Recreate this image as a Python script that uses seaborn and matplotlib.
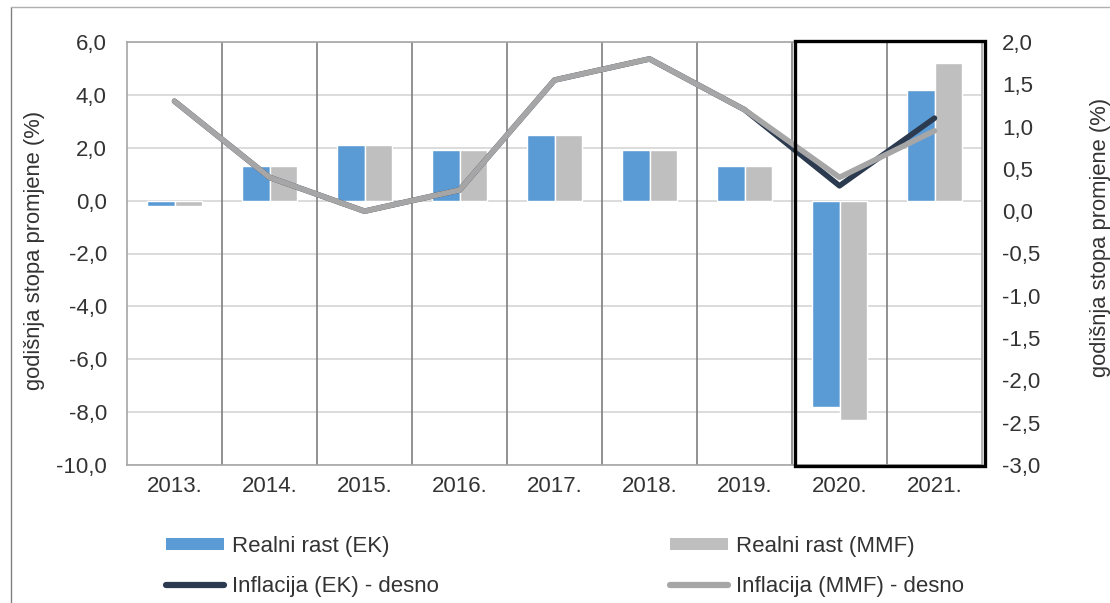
import numpy as np
import pandas as pd
import seaborn as sns
import matplotlib
matplotlib.use("Agg")
import matplotlib.pyplot as plt
from matplotlib.patches import Patch, Rectangle
from matplotlib.lines import Line2D
from matplotlib.ticker import FuncFormatter, MultipleLocator

years = ['2013.', '2014.', '2015.', '2016.', '2017.', '2018.', '2019.', '2020.', '2021.']
rast_ek = [-0.2, 1.3, 2.1, 1.9, 2.5, 1.9, 1.3, -7.8, 4.2]
rast_mmf = [-0.2, 1.3, 2.1, 1.9, 2.5, 1.9, 1.3, -8.3, 5.2]
infl_ek = [1.3, 0.4, 0.0, 0.25, 1.55, 1.8, 1.2, 0.3, 1.1]
infl_mmf = [1.3, 0.4, 0.0, 0.25, 1.55, 1.8, 1.2, 0.4, 0.95]

lbl_bar_ek = 'Realni rast (EK)'
lbl_bar_mmf = 'Realni rast (MMF)'
lbl_line_ek = 'Inflacija (EK) - desno'
lbl_line_mmf = 'Inflacija (MMF) - desno'
ylab = 'godišnja stopa promjene (%)'

BLUE = '#5B9BD5'
GRAY = '#BFBFBF'
NAVY = '#2B3A4F'
LGRAY = '#A6A6A6'
TXT = '#333333'
FS = 16

sns.set_style('white')
plt.rcParams['font.family'] = ['Liberation Sans', 'DejaVu Sans']

fig = plt.figure(figsize=(11.10, 6.03), dpi=100)
ax = fig.add_axes([127/1110, 1-465/603, (982-127)/1110, (465-42)/603])

df = pd.DataFrame({
    'year': years * 2,
    'val': rast_ek + rast_mmf,
    'serija': [lbl_bar_ek] * len(years) + [lbl_bar_mmf] * len(years),
})
sns.barplot(data=df, x='year', y='val', hue='serija', palette=[BLUE, GRAY],
            width=0.57, saturation=1, ax=ax, legend=False, zorder=3)

ax.set_ylim(-10, 6)
ax.yaxis.set_major_locator(MultipleLocator(2))
fmt = FuncFormatter(lambda v, p: f"{v:.1f}".replace('.', ','))
ax.yaxis.set_major_formatter(fmt)
ax.grid(axis='y', color='#D9D9D9', lw=1.3, zorder=0)
ax.set_axisbelow(True)
for xv in np.arange(0.5, len(years) - 1, 1.0):
    ax.axvline(xv, color='#7F7F7F', lw=1.2, zorder=1)
for s in ax.spines.values():
    s.set_color('#A6A6A6')
    s.set_linewidth(1.2)
ax.tick_params(axis='both', length=0, labelsize=FS, colors=TXT)
ax.tick_params(axis='y', pad=14.5)
ax.tick_params(axis='x', pad=8)
ax.set_xlabel('')
ax.set_ylabel(ylab, fontsize=15.8, color=TXT)
ax.yaxis.set_label_coords(-0.0959, 0.508)

ax2 = ax.twinx()
xs = np.arange(len(years))
sns.lineplot(x=xs, y=infl_ek, ax=ax2, color=NAVY, lw=4, solid_capstyle='round', zorder=4)
sns.lineplot(x=xs, y=infl_mmf, ax=ax2, color=LGRAY, lw=4, solid_capstyle='round', zorder=5)
ax2.set_ylim(-3, 2)
ax2.yaxis.set_major_locator(MultipleLocator(0.5))
ax2.yaxis.set_major_formatter(fmt)
ax2.tick_params(axis='y', length=0, labelsize=FS, colors=TXT, pad=14.5)
for s in ax2.spines.values():
    s.set_visible(False)
ax2.set_ylabel(ylab, fontsize=15.8, color=TXT)
ax2.yaxis.set_label_coords(1.1263, 0.537)
ax.set_xlim(-0.5, len(years) - 0.5)

# highlight box around 2020-2021
ax2.add_patch(Rectangle((7/9 + 0.004, -0.002), 2/9 - 0.001, 1.004, transform=ax2.transAxes,
                        fill=False, edgecolor='black', lw=2.4, clip_on=False, zorder=6))

handles = [Patch(facecolor=BLUE, edgecolor='none'),
           Line2D([], [], color=NAVY, lw=4.5, solid_capstyle='round'),
           Patch(facecolor=GRAY, edgecolor='none'),
           Line2D([], [], color=LGRAY, lw=4.5, solid_capstyle='round')]
labels = [lbl_bar_ek, lbl_line_ek, lbl_bar_mmf, lbl_line_mmf]
fig.legend(handles, labels, ncol=2, loc='upper left', bbox_to_anchor=(155/1110, 1-525/603),
           frameon=False, fontsize=FS, labelcolor=TXT, borderpad=0, handlelength=2.6,
           handleheight=0.45, handletextpad=0.36, columnspacing=10.4, labelspacing=0.85)

# outer frame lines
fig.add_artist(Line2D([11/1110, 11/1110], [0, 1-7/603], transform=fig.transFigure, color='#808080', lw=1))
fig.add_artist(Line2D([11/1110, 1], [1-7/603, 1-7/603], transform=fig.transFigure, color='#B0B0B0', lw=1))

fig.savefig('out.png', dpi=100)
